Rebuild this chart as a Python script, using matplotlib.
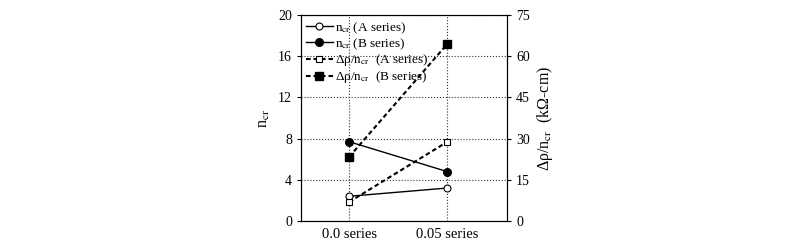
import numpy as np
import matplotlib.pyplot as plt

plt.rcParams['font.family'] = ['Liberation Serif', 'DejaVu Serif']
plt.rcParams['mathtext.fontset'] = 'stix'

categories = ['0.0 series', '0.05 series']
ncr_a = [2.4, 3.2]
ncr_b = [7.7, 4.8]
drho_a = [6.9, 28.8]
drho_b = [23.3, 64.4]

x = np.arange(len(categories))

fig = plt.figure(figsize=(8, 2.44), dpi=100)
ax = fig.add_axes([301/800, 1-221/244, 206/800, 206/244])
ax2 = ax.twinx()

dash = (0, (2.2, 1.4))
h1, = ax.plot(x, ncr_a, '-', color='k', lw=1, marker='o', mfc='white', mec='k', ms=5,
              mew=0.8, label=r'n$_{\rm cr}$ (A series)')
h2, = ax.plot(x, ncr_b, '-', color='k', lw=1, marker='o', mfc='k', mec='k', ms=5.5,
              label=r'n$_{\rm cr}$ (B series)')
h3, = ax2.plot(x, drho_a, color='k', lw=1.5, ls=dash, marker='s', mfc='white',
               mec='k', ms=5, mew=0.8, label=r'Δρ/n$_{\rm cr}$  (A series)')
h4, = ax2.plot(x, drho_b, color='k', lw=1.5, ls=dash, marker='s', mfc='k',
               mec='k', ms=6, label=r'Δρ/n$_{\rm cr}$  (B series)')

ax.set_xlim(-0.49, 1.61)
ax.set_ylim(0, 20)
ax.set_yticks([0, 4, 8, 12, 16, 20])
ax2.set_ylim(0, 75)
ax2.set_yticks([0, 15, 30, 45, 60, 75])
ax.set_xticks(x)
ax.set_xticklabels(categories, fontsize=10.5)
ax.tick_params(axis='y', labelsize=10, direction='out', length=3)
ax2.tick_params(axis='y', labelsize=10, direction='out', length=3)
ax.tick_params(axis='x', length=0, pad=5)

ax.grid(True, color='#333333', ls=':', lw=0.8)
ax.set_ylabel(r'n$_{\rm cr}$', fontsize=11.5)
ax2.set_ylabel(r'Δρ/n$_{\rm cr}$  (kΩ-cm)', fontsize=11.5)

ax.legend(handles=[h1, h2, h3, h4], loc='upper left', frameon=False, fontsize=9.5,
          handlelength=2.0, handletextpad=0.2, labelspacing=0.05, borderaxespad=0.2,
          borderpad=0.2)

fig.savefig('out.png', dpi=100)
